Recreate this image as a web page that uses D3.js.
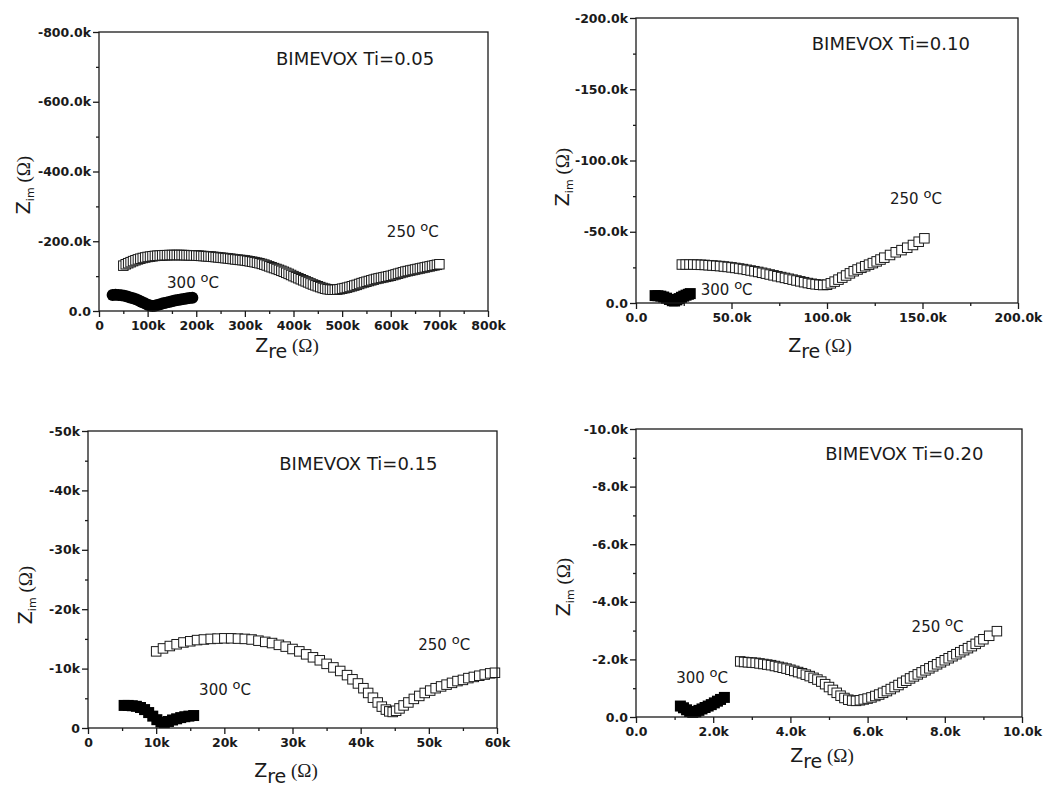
<!DOCTYPE html>
<html><head><meta charset="utf-8">
<script src="https://cdn.jsdelivr.net/npm/d3@7"></script>
<style>body{margin:0;background:#fff}</style>
</head><body><svg id="c" width="1051" height="788"></svg>
<script>
// ---------- DATA (values in kΩ; Z_im negative) ----------
const ti005_250C = [[50,-130],[55,-134],[60,-137],[65,-140],[70,-143],[75,-145.5],[80,-148],[85,-150],[90,-152],[95,-153.5],
[100,-155],[105,-156],[110,-157],[115,-158],[120,-158.5],[125,-159],[130,-159.5],[135,-160],[140,-160],[145,-160.5],
[150,-160.5],[155,-160.5],[160,-160.5],[165,-160.5],[170,-160.5],[175,-160.3],[180,-160],[185,-159.8],[190,-159.5],[195,-159.2],
[200,-159],[205,-158.5],[210,-158],[215,-157.5],[220,-157],[225,-156.5],[230,-156],[235,-155.3],[240,-154.5],[245,-153.8],
[250,-153],[255,-152.3],[260,-151.5],[265,-150.8],[270,-150],[275,-149],[280,-148],[285,-147.3],[290,-146.5],[295,-145.8],
[300,-145],[305,-143.8],[310,-142.5],[315,-141.3],[320,-140],[325,-138.5],[330,-137],[335,-135],[340,-133],[345,-130.5],
[350,-128],[355,-125.5],[360,-123],[365,-120.5],[370,-118],[375,-115.3],[380,-112.5],[385,-109.5],[390,-106.5],[395,-103.3],
[400,-100],[405,-97],[410,-94],[415,-91],[420,-88],[425,-85],[430,-82],[435,-79],[440,-76],[445,-73.5],
[450,-71],[455,-68.5],[460,-66],[465,-64],[470,-62.5],[475,-61.5],[480,-61],[485,-61],[490,-61.5],[495,-62.5],
[500,-64],[505,-65.5],[510,-67],[515,-69],[520,-71],[525,-73],[530,-75],[535,-77.5],[540,-80],[545,-82],
[550,-84],[555,-86],[560,-88],[565,-90],[570,-92],[575,-93.5],[580,-95],[585,-96.5],[590,-98],[595,-99.5],
[600,-101],[605,-103],[610,-105],[615,-107],[620,-109],[625,-111],[630,-113],[635,-114.5],[640,-116],[645,-117.5],
[650,-119],[655,-120.5],[660,-122],[665,-123.5],[670,-125],[675,-126.5],[680,-128],[685,-129.5],[690,-131],[695,-132.5],[700,-134]];
const ti005_300C = [[28,-46],[34,-46.5],[40,-46],[46,-45],[52,-43.5],[58,-41.5],[64,-39],[70,-36.5],[76,-33.5],[82,-30],
[88,-26],[94,-22],[100,-18],[105,-15.5],[110,-14],[115,-15],[120,-17],[126,-19.5],[132,-22],[138,-24],[144,-26],
[150,-28],[156,-30],[162,-31.5],[168,-33],[174,-34.5],[180,-36],[186,-37],[192,-38]];

const ti010_250C = [[24,-27],[26,-27],[28,-27],[30,-27],[32,-26.9],[34,-26.8],[36,-26.7],[38,-26.5],[40,-26.3],[42,-26.1],
[44,-25.9],[46,-25.6],[48,-25.3],[50,-25],[52,-24.6],[54,-24.2],[56,-23.8],[58,-23.3],[60,-22.8],[62,-22.3],
[64,-21.8],[66,-21.2],[68,-20.6],[70,-20],[72,-19.4],[74,-18.8],[76,-18.2],[78,-17.6],[80,-17],[82,-16.4],
[84,-15.8],[86,-15.2],[88,-14.6],[90,-14],[92,-13.5],[94,-13.1],[96,-12.8],[98,-12.6],[100,-12.8],[102,-13.8],
[104,-15],[106,-16.4],[108,-17.8],[110,-19.3],[112,-20.8],[114,-22.3],[116,-23.5],[118,-24.7],[120,-25.8],[122,-26.9],
[124,-28],[126,-29.2],[128,-30.5],[130,-31.8],[133,-33.7],[136,-35.6],[139,-37.1],[142,-38.8],[145,-40.7],[148,-43],[151,-45.4]];
const ti010_300C = [[10,-5.2],[11.5,-5.1],[13,-4.8],[14.5,-4.2],[16,-3.4],[17.5,-2.5],[19,-1.6],[20.2,-1.4],[21.4,-2.2],
[22.6,-3.1],[23.8,-4],[25,-4.8],[26.2,-5.5],[27.4,-6.1],[28.4,-6.6]];

const ti015_250C = [[10,-12.9],[11,-13.4],[12,-13.8],[13,-14.1],[14,-14.4],[15,-14.6],[16,-14.8],[17,-14.9],[18,-15],[19,-15.05],
[20,-15.1],[21,-15.1],[22,-15.05],[23,-15],[24,-14.9],[25,-14.7],[26,-14.5],[27,-14.3],[28,-14],[29,-13.7],
[30,-13.3],[31,-12.9],[32,-12.4],[33,-11.9],[34,-11.4],[35,-10.8],[36,-10.2],[37,-9.6],[38,-8.9],[38.8,-8.2],
[39.6,-7.5],[40.4,-6.7],[41.1,-5.9],[41.8,-5.1],[42.5,-4.3],[43.1,-3.6],[43.7,-3.1],[44.2,-2.8],[44.7,-2.7],[45.2,-2.9],
[45.7,-3.3],[46.3,-3.8],[47,-4.3],[47.8,-4.9],[48.6,-5.4],[49.4,-5.9],[50.2,-6.3],[51,-6.7],[51.8,-7],[52.6,-7.3],
[53.4,-7.6],[54.2,-7.9],[55,-8.1],[55.8,-8.4],[56.6,-8.6],[57.4,-8.8],[58.2,-9],[59,-9.2],[59.7,-9.3]];
const ti015_300C = [[5.3,-3.8],[5.9,-3.8],[6.5,-3.75],[7.1,-3.65],[7.7,-3.45],[8.3,-3.1],[8.9,-2.6],[9.5,-2],[10.1,-1.4],
[10.7,-1],[11.2,-0.9],[11.8,-1.1],[12.4,-1.35],[13,-1.55],[13.6,-1.75],[14.2,-1.9],[14.8,-2],[15.5,-2.1]];

const ti020_250C = [[2.7,-1.93],[2.8,-1.91],[2.9,-1.9],[3.0,-1.89],[3.1,-1.88],[3.2,-1.86],[3.3,-1.84],[3.4,-1.82],[3.5,-1.8],
[3.6,-1.77],[3.7,-1.74],[3.8,-1.71],[3.9,-1.68],[4.0,-1.64],[4.1,-1.6],[4.2,-1.56],[4.3,-1.52],[4.4,-1.47],[4.5,-1.42],
[4.6,-1.36],[4.7,-1.3],[4.8,-1.23],[4.9,-1.14],[5.0,-1.04],[5.1,-0.94],[5.2,-0.84],[5.3,-0.74],[5.4,-0.66],[5.5,-0.6],
[5.6,-0.57],[5.7,-0.56],[5.8,-0.58],[5.9,-0.61],[6.0,-0.64],[6.1,-0.68],[6.2,-0.73],[6.3,-0.78],[6.4,-0.84],[6.5,-0.9],
[6.6,-0.97],[6.7,-1.04],[6.8,-1.11],[6.9,-1.19],[7.0,-1.26],[7.1,-1.34],[7.2,-1.41],[7.3,-1.48],[7.4,-1.55],[7.5,-1.62],
[7.6,-1.69],[7.7,-1.76],[7.8,-1.83],[7.9,-1.9],[8.0,-1.97],[8.1,-2.04],[8.2,-2.11],[8.3,-2.18],[8.4,-2.25],[8.5,-2.32],
[8.6,-2.39],[8.7,-2.46],[8.8,-2.54],[8.9,-2.62],[9.0,-2.7],[9.15,-2.82],[9.35,-2.98]];
const ti020_300C = [[1.15,-0.38],[1.23,-0.32],[1.31,-0.25],[1.39,-0.19],[1.47,-0.16],[1.55,-0.18],[1.63,-0.23],[1.71,-0.28],
[1.79,-0.33],[1.87,-0.38],[1.95,-0.43],[2.03,-0.49],[2.11,-0.55],[2.19,-0.61],[2.29,-0.68]];

// tick values and labels
const ti005_xTicks = [0,100,200,300,400,500,600,700,800];
const ti005_xLabels = ["0","100k","200k","300k","400k","500k","600k","700k","800k"];
const ti005_yTicks = [0,-200,-400,-600,-800];
const ti005_yLabels = ["0.0","-200.0k","-400.0k","-600.0k","-800.0k"];
const ti010_xTicks = [0,50,100,150,200];
const ti010_xLabels = ["0.0","50.0k","100.0k","150.0k","200.0k"];
const ti010_yTicks = [0,-50,-100,-150,-200];
const ti010_yLabels = ["0.0","-50.0k","-100.0k","-150.0k","-200.0k"];
const ti015_xTicks = [0,10,20,30,40,50,60];
const ti015_xLabels = ["0","10k","20k","30k","40k","50k","60k"];
const ti015_yTicks = [0,-10,-20,-30,-40,-50];
const ti015_yLabels = ["0","-10k","-20k","-30k","-40k","-50k"];
const ti020_xTicks = [0,2,4,6,8,10];
const ti020_xLabels = ["0.0","2.0k","4.0k","6.0k","8.0k","10.0k"];
const ti020_yTicks = [0,-2,-4,-6,-8,-10];
const ti020_yLabels = ["0.0","-2.0k","-4.0k","-6.0k","-8.0k","-10.0k"];

const titles = ["BIMEVOX Ti=0.05","BIMEVOX Ti=0.10","BIMEVOX Ti=0.15","BIMEVOX Ti=0.20"];
const tempLabels = ["250","300"];

// ---------- LAYOUT ----------
const panels = [
 {title:titles[0], s250:ti005_250C, s300:ti005_300C, xDom:[0,800], yDom:[0,-800],
  xT:ti005_xTicks, xL:ti005_xLabels, yT:ti005_yTicks, yL:ti005_yLabels,
  box:{l:99,r:488,t:32,b:311}, m300:'circle', m300Size:12,
  tPos:[364,-705], p250:[592,-212], p300:[140,-66], yTitle:[30,185], xTitle:[287,352]},
 {title:titles[1], s250:ti010_250C, s300:ti010_300C, xDom:[0,200], yDom:[0,-200],
  xT:ti010_xTicks, xL:ti010_xLabels, yT:ti010_yTicks, yL:ti010_yLabels,
  box:{l:636,r:1018,t:18,b:303}, m300:'square', m300Size:11,
  tPos:[92,-177.5], p250:[133,-69.5], p300:[33.9,-5.6], yTitle:[569,177], xTitle:[820,352]},
 {title:titles[2], s250:ti015_250C, s300:ti015_300C, xDom:[0,60], yDom:[0,-50],
  xT:ti015_xTicks, xL:ti015_xLabels, yT:ti015_yTicks, yL:ti015_yLabels,
  box:{l:88,r:497,t:431,b:728}, m300:'square', m300Size:11,
  tPos:[28.06,-43.4], p250:[48.45,-13.1], p300:[16.3,-5.56], yTitle:[32,595], xTitle:[286,777]},
 {title:titles[3], s250:ti020_250C, s300:ti020_300C, xDom:[0,10], yDom:[0,-10],
  xT:ti020_xTicks, xL:ti020_xLabels, yT:ti020_yTicks, yL:ti020_yLabels,
  box:{l:636,r:1022,t:429,b:717}, m300:'square', m300Size:11,
  tPos:[4.9,-8.92], p250:[7.14,-2.96], p300:[1.04,-1.17], yTitle:[570,587], xTitle:[822,762]}
];

const svg = d3.select('#c');
svg.append('rect').attr('width',1051).attr('height',788).attr('fill','#fff');
const INK = '#1a1a1a';
const SQ = 9.5;

function mids(t){ const r=[]; for(let i=0;i<t.length-1;i++) r.push((t[i]+t[i+1])/2); return r; }

function tempText(g, x, y, num){
  const t = g.append('text').attr('x',x).attr('y',y)
    .attr('font-family','DejaVu Sans').attr('font-size',15).attr('fill',INK);
  t.append('tspan').text(num + ' ');
  t.append('tspan').attr('font-size',13).attr('dy',-6).text('o');
  t.append('tspan').attr('dy',6).text('C');
}

panels.forEach(p => {
  const b = p.box;
  const g = svg.append('g');
  const x = d3.scaleLinear().domain(p.xDom).range([b.l,b.r]);
  const y = d3.scaleLinear().domain(p.yDom).range([b.b,b.t]);

  // data: 300 °C (filled)
  if (p.m300 === 'circle') {
    g.append('g').selectAll('circle').data(p.s300).join('circle')
      .attr('cx',d=>x(d[0])).attr('cy',d=>y(d[1])).attr('r',p.m300Size/2).attr('fill','#000');
  } else {
    g.append('g').selectAll('rect').data(p.s300).join('rect')
      .attr('x',d=>x(d[0])-p.m300Size/2).attr('y',d=>y(d[1])-p.m300Size/2)
      .attr('width',p.m300Size).attr('height',p.m300Size).attr('fill','#000');
  }
  // data: 250 °C (open squares)
  g.append('g').selectAll('rect').data(p.s250).join('rect')
    .attr('x',d=>x(d[0])-SQ/2).attr('y',d=>y(d[1])-SQ/2)
    .attr('width',SQ).attr('height',SQ)
    .attr('fill','#fff').attr('stroke',INK).attr('stroke-width',1);

  // axes
  const styleAxis = a => {
    a.select('.domain').remove();
    a.selectAll('line').attr('stroke',INK).attr('stroke-width',1.3);
    a.attr('font-family','DejaVu Sans').attr('font-size',12.5).attr('font-weight','bold');
    a.selectAll('text').attr('fill',INK);
  };
  const gx = g.append('g').attr('transform',`translate(0,${b.b})`)
    .call(d3.axisBottom(x).tickValues(p.xT).tickFormat((d,i)=>p.xL[i]).tickSize(6).tickPadding(4));
  styleAxis(gx);
  const gxm = g.append('g').attr('transform',`translate(0,${b.b})`)
    .call(d3.axisBottom(x).tickValues(mids(p.xT)).tickFormat('').tickSize(3));
  styleAxis(gxm);
  const gy = g.append('g').attr('transform',`translate(${b.l},0)`)
    .call(d3.axisLeft(y).tickValues(p.yT).tickFormat((d,i)=>p.yL[i]).tickSize(6).tickPadding(2));
  styleAxis(gy);
  const gym = g.append('g').attr('transform',`translate(${b.l},0)`)
    .call(d3.axisLeft(y).tickValues(mids(p.yT)).tickFormat('').tickSize(3));
  styleAxis(gym);

  // frame
  g.append('rect').attr('x',b.l).attr('y',b.t).attr('width',b.r-b.l).attr('height',b.b-b.t)
    .attr('fill','none').attr('stroke',INK).attr('stroke-width',1.3);

  // annotations
  g.append('text').attr('x',x(p.tPos[0])).attr('y',y(p.tPos[1]))
    .attr('font-family','DejaVu Sans').attr('font-size',18).attr('fill',INK).text(p.title);
  tempText(g, x(p.p250[0]), y(p.p250[1]), tempLabels[0]);
  tempText(g, x(p.p300[0]), y(p.p300[1]), tempLabels[1]);

  // axis titles
  const xt = g.append('text').attr('x',p.xTitle[0]).attr('y',p.xTitle[1])
    .attr('text-anchor','middle').attr('font-family','DejaVu Sans').attr('font-size',19).attr('fill',INK);
  xt.append('tspan').text('Z');
  xt.append('tspan').attr('dy',6).text('re');
  xt.append('tspan').attr('dy',-6).attr('font-family','Liberation Serif').attr('font-size',19).text(' (Ω)');

  const yt = g.append('text').attr('transform',`translate(${p.yTitle[0]},${p.yTitle[1]}) rotate(-90)`)
    .attr('text-anchor','middle').attr('font-family','DejaVu Sans').attr('font-size',19).attr('fill',INK);
  yt.append('tspan').text('Z');
  yt.append('tspan').attr('dy',4).attr('font-size',11).text('im');
  yt.append('tspan').attr('dy',-4).attr('font-family','Liberation Serif').attr('font-size',19).text(' (Ω)');
});
</script></body></html>
